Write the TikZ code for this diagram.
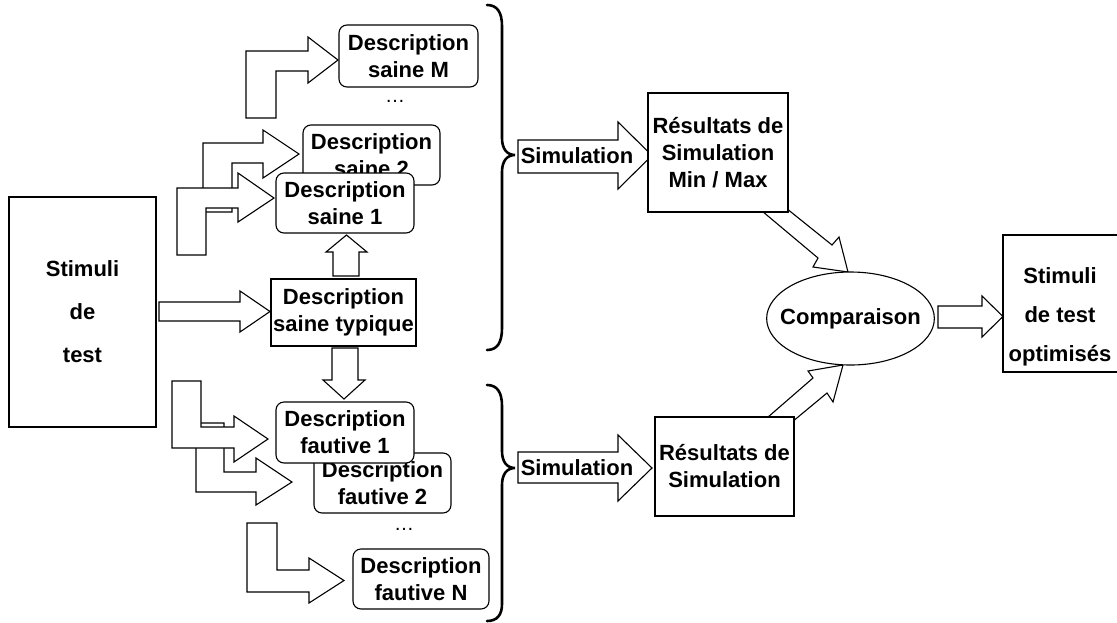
\documentclass[tikz,border=0pt]{standalone}
\usepackage{fontspec}
\setmainfont{Liberation Sans}
\usetikzlibrary{shapes.geometric}
\newcommand{\txtfont}{\bfseries\fontsize{22}{27}\selectfont}
\tikzset{
  box/.style={draw, line width=1.1pt, fill=white, align=center, inner sep=0pt, font=\txtfont},
  rbox/.style={box, rounded corners=8pt},
  blk/.style={draw, line width=1.1pt, fill=white, line join=miter},
  brc/.style={draw, line width=2.6pt, line cap=round},
  lbl/.style={align=center, inner sep=0pt, font=\txtfont},
  dots/.style={align=center, inner sep=0pt, font=\fontsize{20}{22}\selectfont},
}
\begin{document}
\begin{tikzpicture}[x=1pt,y=-1pt]
\useasboundingbox (0,0) rectangle (1117,622);
\clip (0,0) rectangle (1117,622);
\fill[white] (0,0) rectangle (1117,622);

% ---- Stimuli de test
\node[box, minimum width=147, minimum height=230, font=\bfseries\fontsize{22}{43}\selectfont] (stim) at (82.5,312) {Stimuli\\de\\test};

% ---- block arrows, left part
\draw[blk] (159,302) -- (240,302) -- (240,291) -- (270,311.5) -- (240,332) -- (240,321) -- (159,321) -- cycle;
\draw[blk] (333,276) -- (333,252) -- (326,252) -- (346.5,235) -- (367,252) -- (359,252) -- (359,276) -- cycle;
\draw[blk] (332,348) -- (332,380) -- (323,380) -- (344,399) -- (365,380) -- (358,380) -- (358,348) -- cycle;

% saine arrows (up then right)
\draw[blk] (246,118) -- (246,51) -- (308,51) -- (308,37) -- (338,60) -- (308,83) -- (308,71) -- (276,71) -- (276,118) -- cycle;
\draw[blk] (203,212) -- (203,143) -- (263,143) -- (263,130) -- (299,154) -- (263,178) -- (263,163) -- (232,163) -- (232,212) -- cycle;
\draw[blk] (177,255) -- (177,188) -- (238,188) -- (238,173) -- (274,198) -- (238,222) -- (238,208) -- (206,208) -- (206,255) -- cycle;

% fautive arrows (down then right)
\draw[blk] (196,423) -- (196,492) -- (256,492) -- (256,505) -- (292,482) -- (256,458) -- (256,472) -- (224,472) -- (224,423) -- cycle;
\draw[blk] (172,381) -- (172,448) -- (234,448) -- (234,462) -- (268,439) -- (234,416) -- (234,427) -- (201,427) -- (201,381) -- cycle;
\draw[blk] (247,523) -- (247,592) -- (309,592) -- (309,603) -- (344,580.5) -- (309,558) -- (309,570) -- (277,570) -- (277,523) -- cycle;

% ---- description nodes
\node[rbox, minimum width=139, minimum height=62] (sM) at (408.5,56) {Description\\saine M};
\node[dots] (d1) at (395,101) {…};
\node[rbox, minimum width=137, minimum height=60] (s2) at (371.5,155) {Description\\saine 2};
\node[rbox, minimum width=138, minimum height=60] (s1) at (345,203) {Description\\saine 1};
\node[box, minimum width=145, minimum height=67] (typ) at (343.5,312.5) {Description\\saine typique};
\node[rbox, minimum width=137, minimum height=60] (f2) at (382.5,483) {Description\\fautive 2};
\node[rbox, minimum width=138, minimum height=61] (f1) at (345,432.5) {Description\\fautive 1};
\node[dots] (d2) at (404,529) {…};
\node[rbox, minimum width=136, minimum height=60] (fN) at (421,579) {Description\\fautive N};

% ---- braces
\draw[brc] (487,5) .. controls (497,5) and (502,12) .. (502,26) -- (502,138)
  .. controls (502,149) and (507,155) .. (515,155)
  .. controls (507,155) and (502,161) .. (502,172) -- (502,328)
  .. controls (502,343) and (497,350) .. (487,350);
\draw[brc] (487,385) .. controls (497,385) and (502,392) .. (502,406) -- (502,451)
  .. controls (502,462) and (507,468) .. (515,468)
  .. controls (507,468) and (502,474) .. (502,485) -- (502,604)
  .. controls (502,615) and (497,621) .. (487,621);

% ---- simulation arrows
\draw[blk] (518,140) -- (618,140) -- (618,122) -- (652,155.5) -- (618,189) -- (618,173) -- (518,173) -- cycle;
\node[lbl] (sim1) at (577,156) {Simulation};
\draw[blk] (518,452) -- (618,452) -- (618,435) -- (652,468) -- (618,501) -- (618,483) -- (518,483) -- cycle;
\node[lbl] (sim2) at (577,468) {Simulation};

% ---- diagonal arrows
\draw[blk] (756,206) -- (818,258) -- (813,267) -- (848,272) -- (839,237) -- (832,245) -- (781,204) -- cycle;
\draw[blk] (760,424) -- (813,378) -- (808,371) -- (843,365) -- (833,402) -- (827,393) -- (786,427) -- cycle;

% ---- results
\node[box, minimum width=140, minimum height=119] (res1) at (718,152.5) {Résultats de\\Simulation\\Min / Max};
\node[box, minimum width=139, minimum height=99] (res2) at (724.5,466.5) {Résultats de\\Simulation};

% ---- comparaison
\node[draw, ellipse, line width=1.1pt, fill=white, inner xsep=-11pt, inner ysep=0pt, minimum width=165, minimum height=93, font=\txtfont] (comp) at (850.5,318.5) {Comparaison};
\draw[blk] (938,306) -- (982,306) -- (982,296) -- (1003,316.5) -- (982,337) -- (982,328) -- (938,328) -- cycle;

% ---- optimised stimuli (right side cut off by the picture edge)
\coordinate (optNW) at (1003,235);
\coordinate (optSW) at (1003,372);
\draw[line width=1.1pt] ([xshift=130pt]optNW) -- (optNW) -- (optSW) -- ([xshift=130pt]optSW);
\node[lbl, font=\bfseries\fontsize{22}{39}\selectfont] (optT) at (1060,317) {Stimuli\\de test\\optimisés};
\end{tikzpicture}
\end{document}
